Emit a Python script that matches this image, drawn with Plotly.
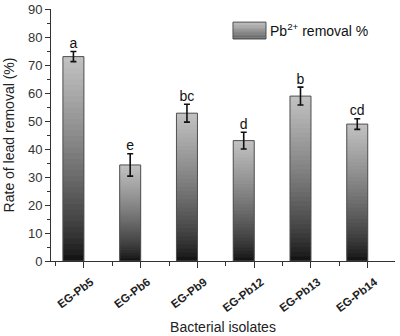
import plotly.graph_objects as go

isolates = ["EG-Pb5", "EG-Pb6", "EG-Pb9", "EG-Pb12", "EG-Pb13", "EG-Pb14"]
removal = [73.0, 34.3, 52.8, 43.0, 58.9, 48.9]
errors = [1.8, 4.0, 3.2, 3.0, 3.2, 1.9]
letters = ["a", "e", "bc", "d", "b", "cd"]

FONT = "Arial, Liberation Sans, sans-serif"
xpos = list(range(len(isolates)))
N = 36
BW = 0.37

def shade(t):
    v = int(round(14 + (194 - 14) * (t ** 0.75)))
    return f"rgb({v},{v},{v})"

fig = go.Figure()
for i in range(N):
    t = (i + 0.5) / N
    bases = [v * i / N for v in removal]
    heights = [min(v * 2.2 / N, v - b) for v, b in zip(removal, bases)]
    fig.add_trace(go.Bar(
        x=xpos, y=heights, base=bases, offset=-BW,
        width=BW, marker=dict(color=shade(t), line=dict(width=0)),
        showlegend=False, hoverinfo="skip"))
fig.add_trace(go.Bar(
    x=xpos, y=removal, width=BW, offset=-BW,
    marker=dict(color="rgba(0,0,0,0)", line=dict(color="#505050", width=1)),
    showlegend=False))
centers = [x - BW / 2 for x in xpos]
fig.add_trace(go.Scatter(
    x=centers, y=removal, mode="markers", marker=dict(size=1, opacity=0),
    error_y=dict(type="data", array=errors, color="#111", thickness=1.6, width=3),
    showlegend=False, hoverinfo="skip"))
fig.add_trace(go.Scatter(
    x=centers, y=[v + e for v, e in zip(removal, errors)], mode="text",
    text=letters, textposition="top center",
    textfont=dict(family=FONT, size=14, color="#111"), showlegend=False))

# legend swatch (gradient) + text
x0, x1 = 0.529, 0.625
y0, y1 = 0.881, 0.948
M = 12
for i in range(M):
    t = (i + 0.5) / M
    fig.add_shape(type="rect", xref="paper", yref="paper",
                  x0=x0, x1=x1, y0=y0 + (y1 - y0) * i / M, y1=y0 + (y1 - y0) * (i + 1.3) / M if i < M - 1 else y1,
                  fillcolor=shade(0.35 + 0.65 * t), line=dict(width=0))
fig.add_shape(type="rect", xref="paper", yref="paper", x0=x0, x1=x1, y0=y0, y1=y1,
              line=dict(color="#505050", width=1))
fig.add_annotation(xref="paper", yref="paper", x=0.632, y=0.917, xanchor="left",
                   yanchor="middle", showarrow=False,
                   text="Pb<sup>2+</sup> removal %",
                   font=dict(family=FONT, size=14, color="#111"))

fig.update_layout(
    width=400, height=336, barmode="overlay",
    margin=dict(l=51, r=5, t=9, b=75),
    paper_bgcolor="white", plot_bgcolor="white",
    font=dict(family=FONT, color="#222"),
    xaxis=dict(range=[-0.58, 5.48], tickmode="array", tickvals=xpos, ticktext=isolates,
               tickangle=-37, tickfont=dict(family=FONT, size=11.5, color="#222", weight="bold"),
               ticklabelstandoff=3, ticklabelshift=7,
               ticks="outside", ticklen=6, tickcolor="#333", showline=True, automargin=False,
               linecolor="#333", linewidth=1, showgrid=False, zeroline=False,
               minor=dict(tickmode="linear", tick0=0.5, dtick=1, ticks="outside",
                          ticklen=4, tickcolor="#333", showgrid=False),
               title=dict(text="Bacterial isolates", font=dict(family=FONT, size=14, color="#222"),
                          standoff=9)),
    yaxis=dict(range=[0, 90], dtick=10, ticks="outside", ticklen=5, tickcolor="#333",
               tickfont=dict(family=FONT, size=13, color="#333"), automargin=False,
               showline=True, linecolor="#333", linewidth=1, showgrid=False,
               zeroline=False,
               minor=dict(dtick=5, ticks="outside", ticklen=3, tickcolor="#333", showgrid=False),
               title=dict(text="Rate of lead removal (%)", font=dict(family=FONT, size=14, color="#222"),
                          standoff=10)),
)
fig.write_html("out.html", config={"displayModeBar": False},
               post_script="document.body.style.margin='0';")
